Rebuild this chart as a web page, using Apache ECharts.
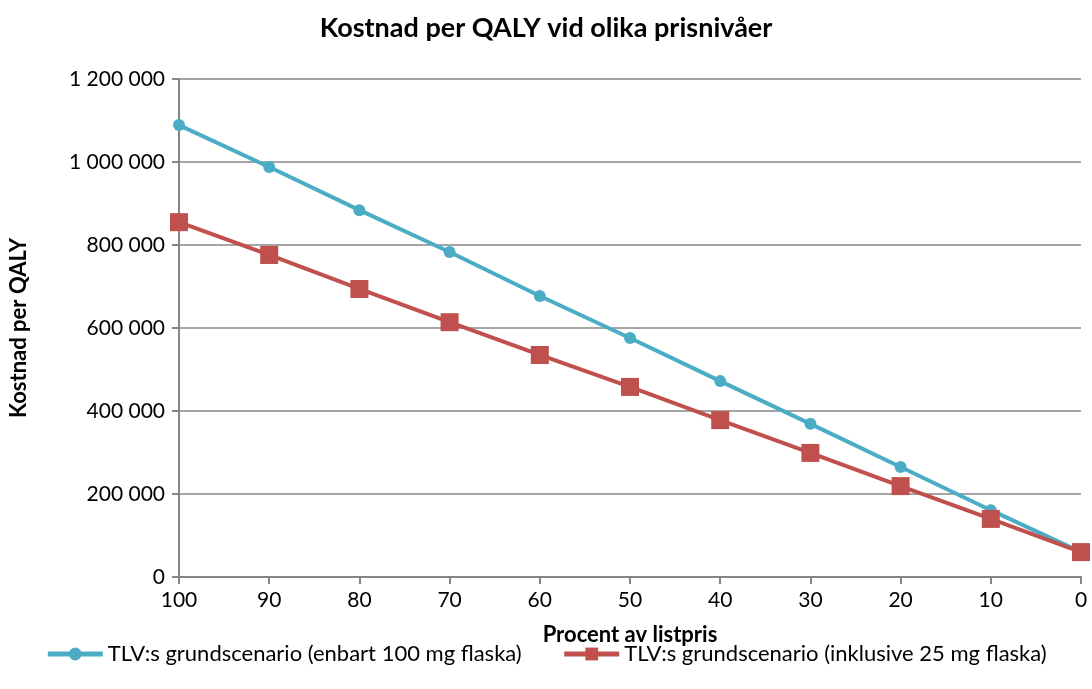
<!DOCTYPE html>
<html>
<head>
<meta charset="utf-8">
<script src="https://cdn.jsdelivr.net/npm/echarts@6/dist/echarts.min.js"></script>
<style>
  html, body { margin: 0; padding: 0; background: #fff; }
  #chart { width: 1092px; height: 689px; }
</style>
</head>
<body>
<div id="chart"></div>
<script>
// procent av listpris
const categories = ['100', '90', '80', '70', '60', '50', '40', '30', '20', '10', '0']
const baseOnly100 = [1089000, 988000, 884000, 783000, 677000, 576000, 472000, 369000, 265000, 161000, 60000]
const incl25 = [855000, 776000, 694000, 614000, 535000, 458000, 378000, 299000, 219000, 140000, 60000]
const seriesNames = ['TLV:s grundscenario (enbart 100 mg flaska)', 'TLV:s grundscenario (inklusive 25 mg flaska)']

const font = 'Lato, "Open Sans", sans-serif'
const chart = echarts.init(document.getElementById('chart'))

function fmt(v) {
  return String(v).replace(/\B(?=(\d{3})+(?!\d))/g, ' ')
}

chart.setOption({
  animation: false,
  textStyle: { fontFamily: font },
  title: {
    text: 'Kostnad per QALY vid olika prisnivåer',
    left: 'center',
    top: 10,
    textStyle: { fontSize: 27, fontWeight: 'bold', color: '#000', fontFamily: font },
  },
  grid: {
    left: 179,
    right: 11,
    top: 79,
    bottom: 112,
    outerBoundsMode: 'none',
    containLabel: false,
  },
  legend: {
    bottom: 19,
    left: 'center',
    itemWidth: 55,
    itemHeight: 16,
    itemGap: 40,
    lineStyle: { width: 5 },
    textStyle: { fontSize: 22, color: '#000', fontFamily: font },
    data: seriesNames,
  },
  xAxis: {
    type: 'category',
    data: categories,
    boundaryGap: false,
    name: 'Procent av listpris',
    nameLocation: 'middle',
    nameGap: 47,
    nameTextStyle: { fontSize: 22, fontWeight: 'bold', color: '#000', fontFamily: font },
    axisLine: { lineStyle: { color: '#868686', width: 2 } },
    axisTick: { show: true, length: 7, lineStyle: { color: '#868686', width: 2 } },
    axisLabel: { fontSize: 21, color: '#000', margin: 13, fontFamily: font },
    splitLine: { show: false },
  },
  yAxis: {
    type: 'value',
    min: 0,
    max: 1200000,
    interval: 200000,
    name: 'Kostnad per QALY',
    nameLocation: 'middle',
    nameGap: 149,
    nameRotate: 90,
    nameTextStyle: { fontSize: 22, fontWeight: 'bold', color: '#000', fontFamily: font },
    axisLine: { show: true, lineStyle: { color: '#868686', width: 2 } },
    axisTick: { show: true, length: 7, lineStyle: { color: '#868686', width: 2 } },
    axisLabel: { fontSize: 21, color: '#000', margin: 14, formatter: fmt, fontFamily: font },
    splitLine: { lineStyle: { color: '#868686', width: 1.5 } },
  },
  series: [
    {
      name: seriesNames[0],
      type: 'line',
      data: baseOnly100,
      symbol: 'circle',
      symbolSize: 12,
      itemStyle: { color: '#4BACC6' },
      lineStyle: { color: '#4BACC6', width: 4 },
      z: 2,
    },
    {
      name: seriesNames[1],
      type: 'line',
      data: incl25,
      symbol: 'rect',
      symbolSize: 18,
      itemStyle: { color: '#C0504D' },
      lineStyle: { color: '#C0504D', width: 4 },
      z: 3,
    },
  ],
})
</script>
</body>
</html>
